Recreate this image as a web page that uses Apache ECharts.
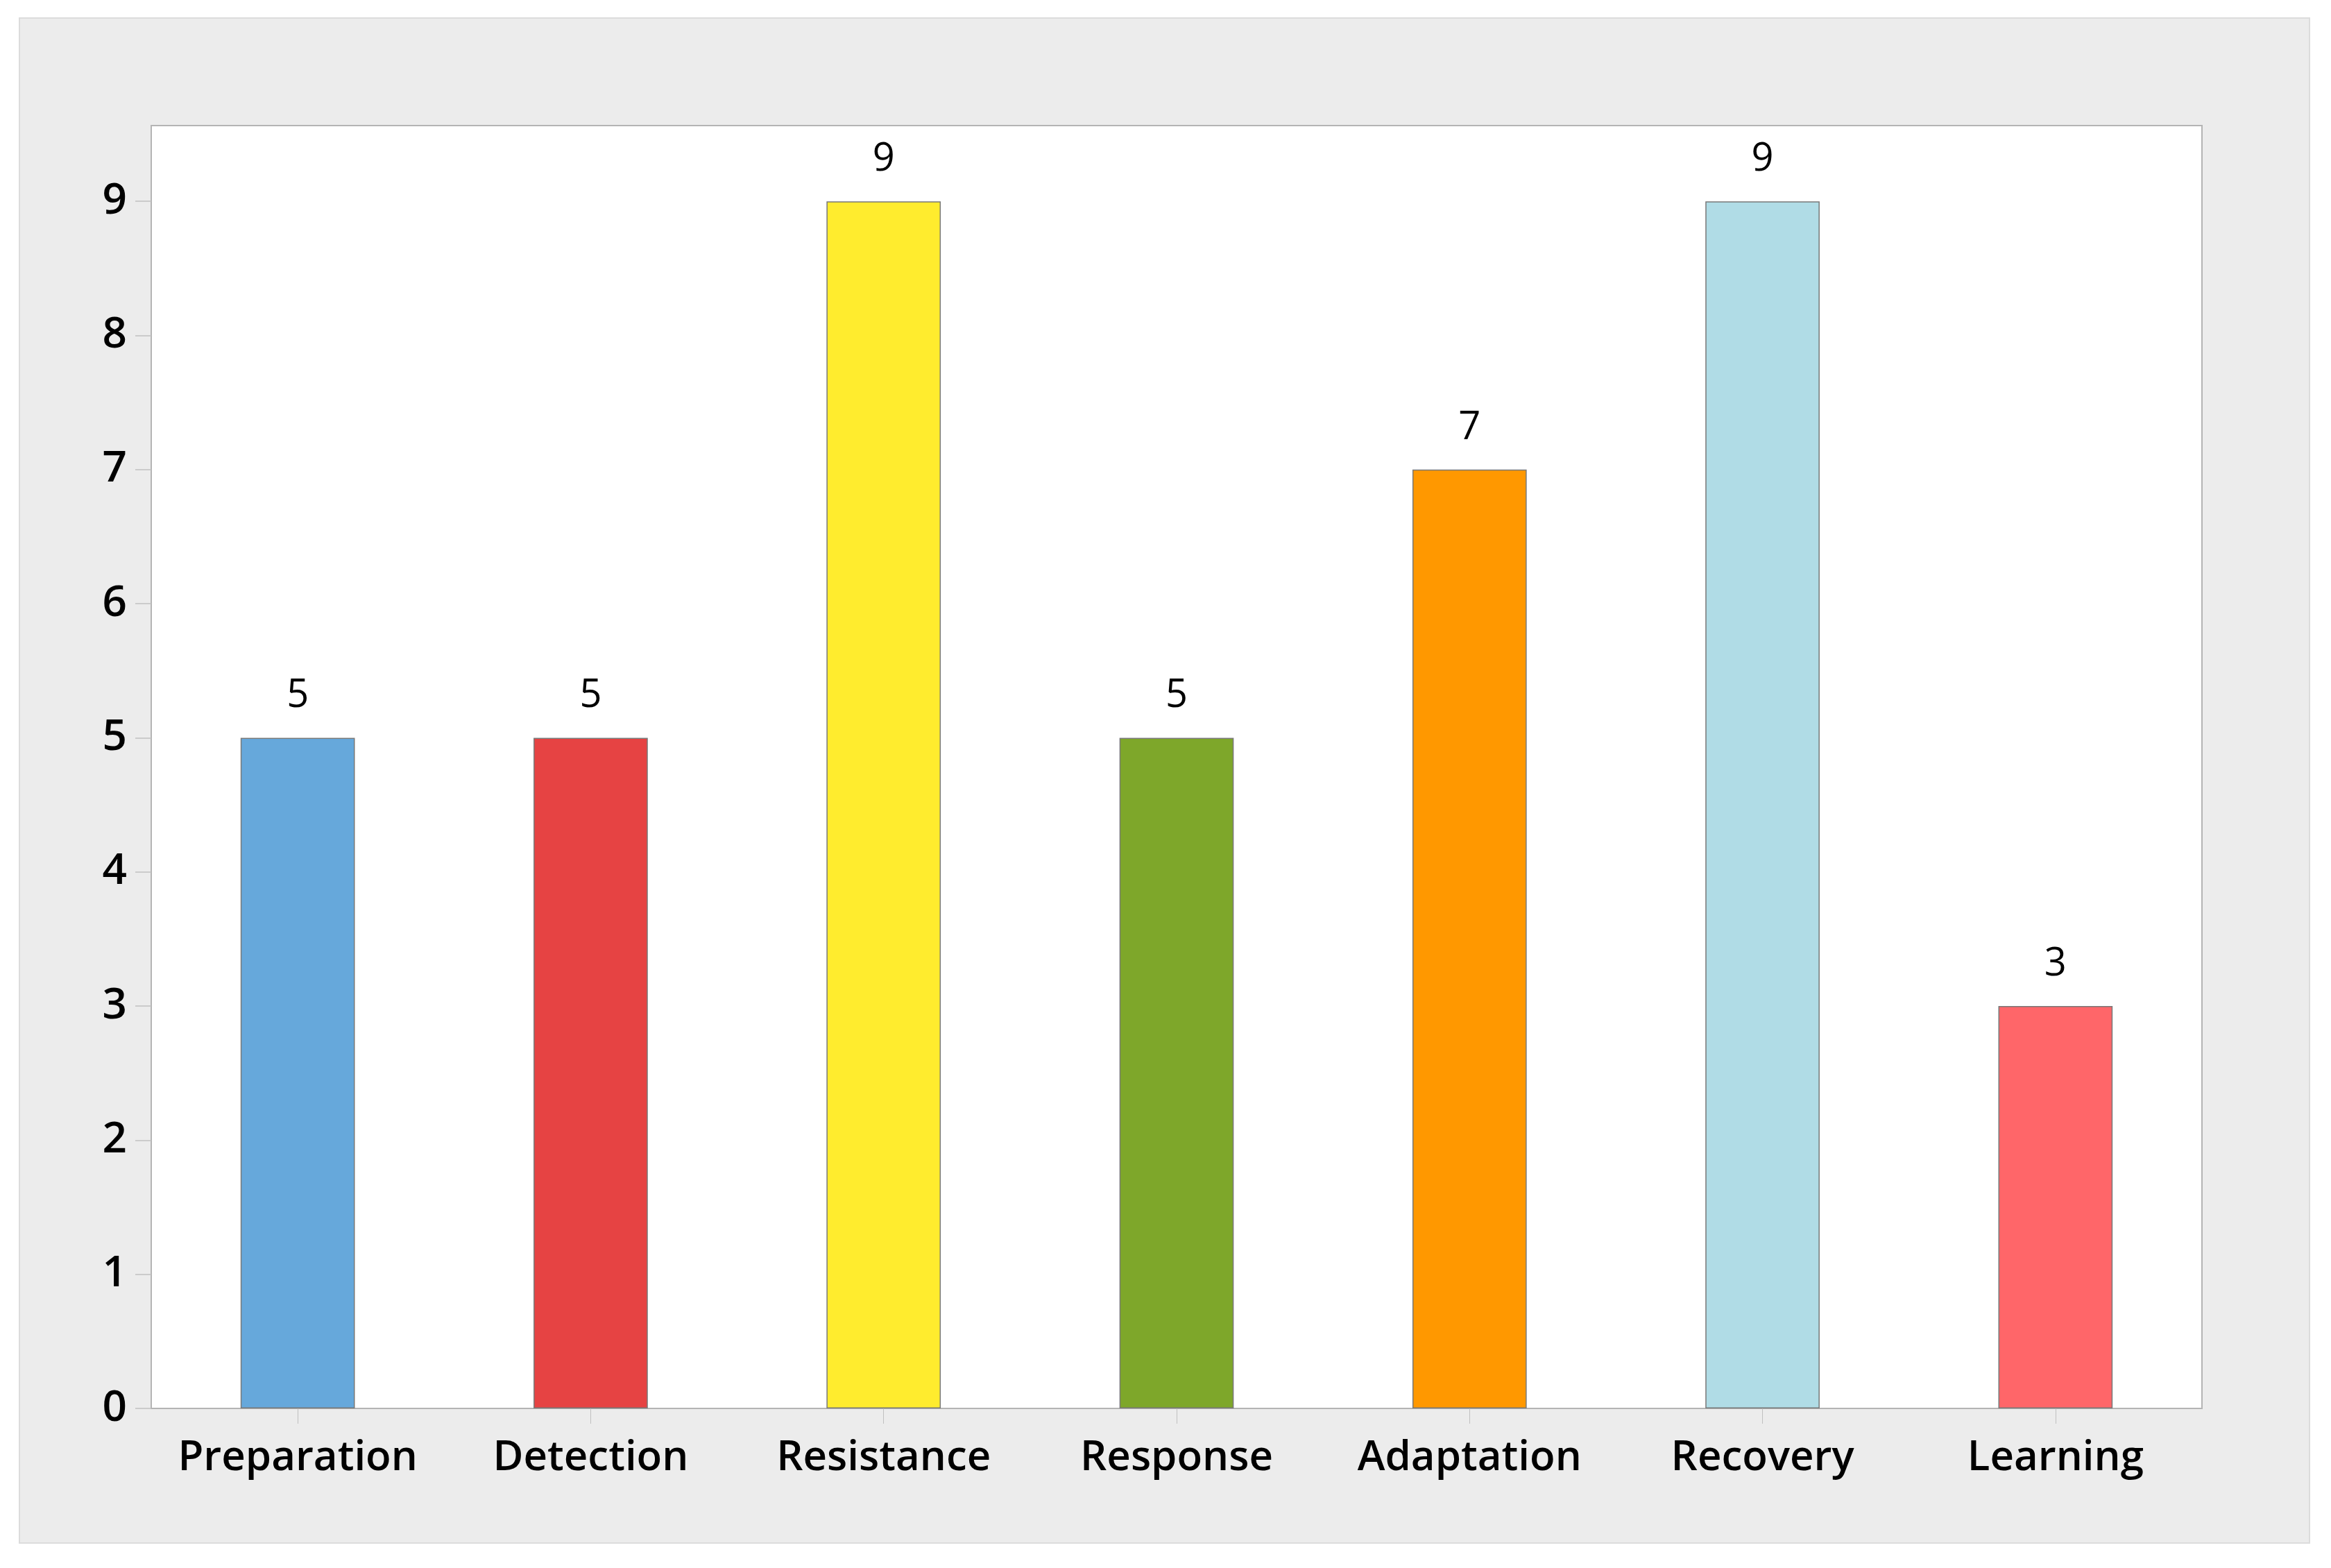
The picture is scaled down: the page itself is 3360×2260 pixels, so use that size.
<!DOCTYPE html>
<html>
<head>
<meta charset="utf-8">
<script src="https://cdn.jsdelivr.net/npm/echarts@6/dist/echarts.min.js"></script>
<style>
html,body{margin:0;padding:0;background:#ffffff;}
#chart{width:3360px;height:2260px;}
</style>
</head>
<body>
<div id="chart"></div>
<script>
const categories = ['Preparation', 'Detection', 'Resistance', 'Response', 'Adaptation', 'Recovery', 'Learning'];
const values = [5, 5, 9, 5, 7, 9, 3];
const barColors = ['#66A8DB', '#E64343', '#FFEC2E', '#7EA72A', '#FF9800', '#B0DCE6', '#FF6669'];
const yTicks = [0, 1, 2, 3, 4, 5, 6, 7, 8, 9];

const chart = echarts.init(document.getElementById('chart'), null, {renderer: 'canvas'});
const FONT = 'Open Sans';
chart.setOption({
  animation: false,
  backgroundColor: '#ffffff',
  graphic: [{
    type: 'rect', z: -10, silent: true,
    shape: {x: 28, y: 26, width: 3301, height: 2198},
    style: {fill: '#ececec', stroke: '#dcdcdc', lineWidth: 2}
  }],
  grid: {
    left: 218, top: 181, right: 186, bottom: 230,
    show: true, backgroundColor: '#ffffff', borderColor: '#b4b4b4', borderWidth: 2,
    containLabel: false
  },
  xAxis: {
    type: 'category',
    data: categories,
    axisLine: {show: true, lineStyle: {color: '#b4b4b4', width: 2}},
    axisTick: {show: true, alignWithLabel: true, length: 22, lineStyle: {color: '#c0c0c0', width: 1}},
    axisLabel: {interval: 0, color: '#000000', fontFamily: FONT, fontWeight: 600, fontSize: 60, margin: 42},
    splitLine: {show: false}
  },
  yAxis: {
    type: 'value',
    min: 0, max: 9.565,
    axisLine: {show: true, lineStyle: {color: '#b4b4b4', width: 2}},
    axisTick: {show: true, length: 23, customValues: yTicks, lineStyle: {color: '#c0c0c0', width: 1.5}},
    axisLabel: {color: '#000000', fontFamily: FONT, fontWeight: 600, fontSize: 62, margin: 35, customValues: yTicks},
    splitLine: {show: false}
  },
  series: [{
    type: 'bar',
    data: values.map((v, i) => ({value: v, itemStyle: {color: barColors[i]}})),
    barWidth: '39%',
    itemStyle: {borderColor: '#787878', borderWidth: 1.5},
    label: {show: true, position: 'top', distance: 32, color: '#000000', fontFamily: FONT, fontSize: 56}
  }]
});
</script>
</body>
</html>
